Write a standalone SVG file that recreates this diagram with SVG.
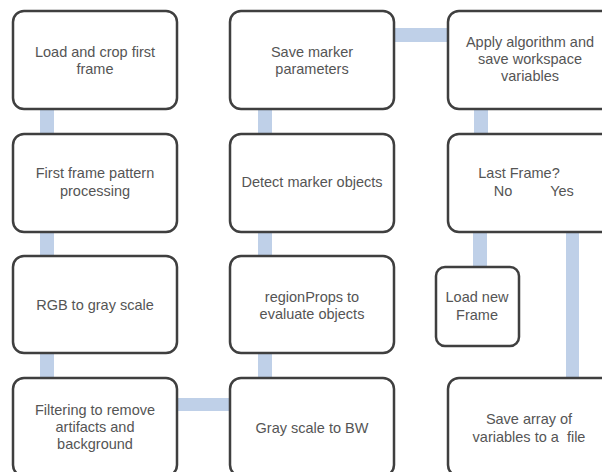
<svg xmlns="http://www.w3.org/2000/svg" width="602" height="472" viewBox="0 0 602 472">
<style>
.box{fill:#ffffff;stroke:#3f3f3f;stroke-width:2.5}
.lbl{font-family:"Liberation Sans",Arial,sans-serif;font-size:14.5px;fill:#555555;text-anchor:middle}
.conn{fill:#bfd0e8;stroke:none}
</style>
<rect width="602" height="472" fill="#ffffff"/>
<g id="connectors">
<rect class="conn" x="40" y="108" width="14" height="28"/>
<rect class="conn" x="40" y="231" width="14" height="27"/>
<rect class="conn" x="40" y="352" width="14" height="28"/>
<rect class="conn" x="176" y="398" width="56" height="13"/>
<rect class="conn" x="258" y="352" width="14" height="28"/>
<rect class="conn" x="258" y="231" width="14" height="27"/>
<rect class="conn" x="258" y="108" width="14" height="28"/>
<rect class="conn" x="393" y="28" width="57" height="14"/>
<rect class="conn" x="474" y="108" width="14" height="28"/>
<rect class="conn" x="473" y="231" width="14" height="38"/>
<rect class="conn" x="566" y="231" width="13" height="149"/>
</g>
<g id="n1"><rect class="box" x="13" y="11" width="164" height="98" rx="11"/>
<text class="lbl" x="95" y="57">Load and crop first</text><text class="lbl" x="95" y="74">frame</text></g>
<g id="n2"><rect class="box" x="13" y="134" width="164" height="98" rx="11"/>
<text class="lbl" x="95" y="178">First frame pattern</text><text class="lbl" x="95" y="196">processing</text></g>
<g id="n3"><rect class="box" x="13" y="256" width="164" height="97" rx="11"/>
<text class="lbl" x="95" y="310">RGB to gray scale</text></g>
<g id="n4"><rect class="box" x="13" y="378" width="164" height="98" rx="11"/>
<text class="lbl" x="95" y="415">Filtering to remove</text><text class="lbl" x="95" y="432">artifacts and</text><text class="lbl" x="95" y="449">background</text></g>
<g id="n5"><rect class="box" x="230" y="378" width="164" height="98" rx="11"/>
<text class="lbl" x="312" y="433">Gray scale to BW</text></g>
<g id="n6"><rect class="box" x="230" y="256" width="164" height="97" rx="11"/>
<text class="lbl" x="312" y="302">regionProps to</text><text class="lbl" x="312" y="319">evaluate objects</text></g>
<g id="n7"><rect class="box" x="230" y="134" width="164" height="98" rx="11"/>
<text class="lbl" x="312" y="187">Detect marker objects</text></g>
<g id="n8"><rect class="box" x="230" y="11" width="164" height="98" rx="11"/>
<text class="lbl" x="312" y="57">Save marker</text><text class="lbl" x="312" y="74">parameters</text></g>
<g id="n9"><rect class="box" x="448" y="11" width="164" height="98" rx="11"/>
<text class="lbl" x="530" y="47">Apply algorithm and</text><text class="lbl" x="530" y="64">save workspace</text><text class="lbl" x="530" y="81">variables</text></g>
<g id="n10"><rect class="box" x="448" y="134" width="164" height="98" rx="11"/>
<text class="lbl" x="519" y="178">Last Frame?</text><text class="lbl" y="196"><tspan x="503">No</tspan><tspan x="562">Yes</tspan></text></g>
<g id="n11"><rect class="box" x="436" y="267" width="83" height="79" rx="9"/>
<text class="lbl" x="477" y="302">Load new</text><text class="lbl" x="477" y="320">Frame</text></g>
<g id="n12"><rect class="box" x="448" y="378" width="164" height="98" rx="11"/>
<text class="lbl" x="529" y="424">Save array of</text><text class="lbl" x="529" y="442" xml:space="preserve">variables to a  file</text></g>
</svg>
